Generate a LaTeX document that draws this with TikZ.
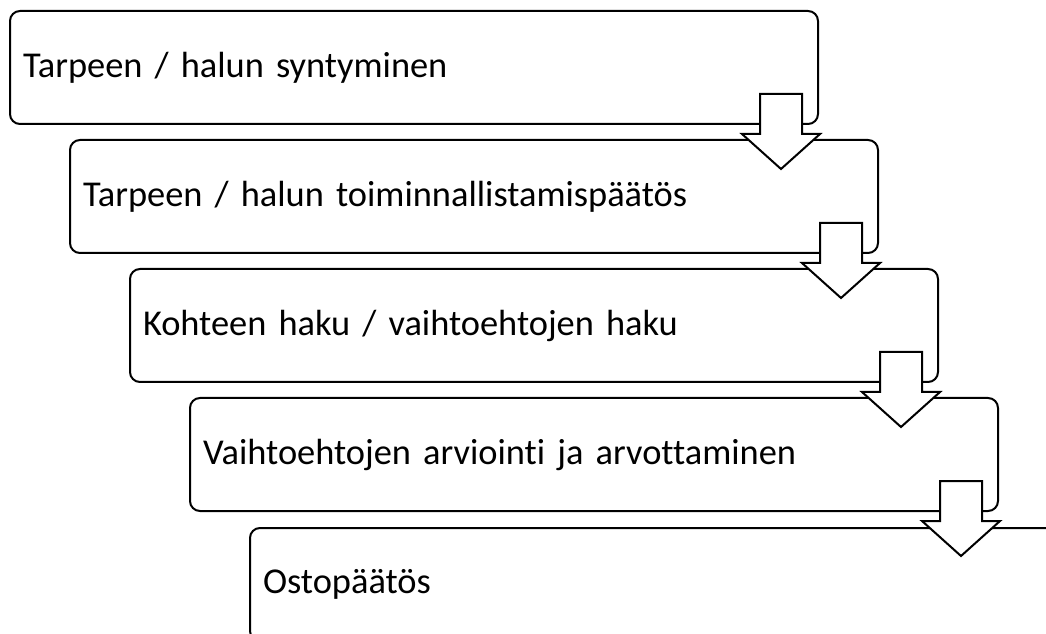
\documentclass[tikz,border=0pt]{standalone}
\usepackage{fontspec}
\setmainfont{Carlito}[WordSpace=0.7,Ligatures=NoCommon]
\begin{document}
\begin{tikzpicture}[x=0.75pt,y=-0.75pt,
  stepbox/.style={draw, line width=1.5pt, rounded corners=7.5pt, anchor=north west,
    minimum height=84.75pt, text width=586.5pt, inner xsep=9.75pt, align=left,
    font=\fontsize{27.3}{33}\selectfont},
  blockarrow/.style={draw, fill=white, line width=1.5pt, line join=miter}]
\useasboundingbox (0,0) rectangle (1046,634);
\clip (0,0) rectangle (1046,634);

\node[stepbox] (b1) at (9,10) {Tarpeen / halun syntyminen};
\node[stepbox] (b2) at (69,139) {Tarpeen / halun toiminnallistamispäätös};
\node[stepbox] (b3) at (129,268) {Kohteen haku / vaihtoehtojen haku};
\node[stepbox] (b4) at (189,397) {Vaihtoehtojen arviointi ja arvottaminen};
\node[stepbox] (b5) at (249,527) {Ostopäätös};

% block arrows from one step to the next
\foreach \i in {1,...,4}
  \draw[blockarrow] ([shift={(-59,-31)}]b\i.south east) -- ++(42,0) -- ++(0,40)
    -- ++(18,0) -- ++(-39,35) -- ++(-39,-35) -- ++(18,0) -- cycle;

\end{tikzpicture}
\end{document}
